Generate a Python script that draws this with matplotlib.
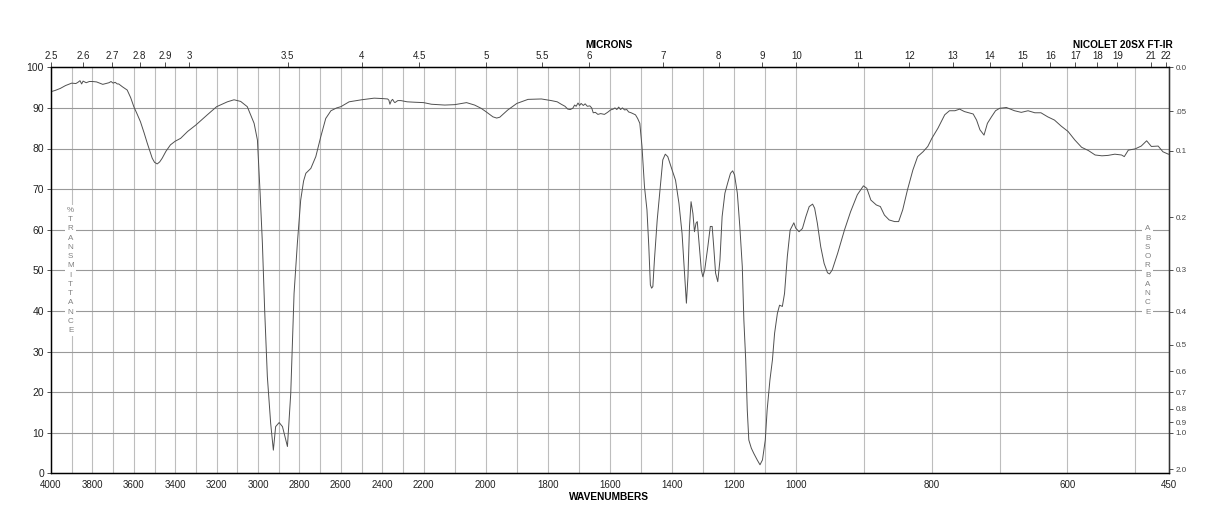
import numpy as np
import matplotlib
matplotlib.use("Agg")
import matplotlib.pyplot as plt

plt.rcParams['font.family'] = ['Liberation Sans', 'DejaVu Sans']

# ---------------- data ----------------
wavenumber = [
    4000, 3980, 3955, 3930, 3900, 3880, 3870, 3860, 3852, 3845, 3830, 3815, 3800, 3780,
    3765, 3750, 3735, 3720, 3710, 3700, 3690, 3680, 3673, 3655, 3632, 3615, 3600, 3585,
    3568, 3550, 3535, 3511, 3500, 3487, 3475, 3463, 3445, 3423, 3400, 3374, 3340, 3300,
    3245, 3200, 3148, 3116, 3084, 3052, 3019, 3003, 2990, 2979, 2968, 2955, 2939, 2926,
    2915, 2898, 2882, 2858, 2842, 2826, 2810, 2794, 2780, 2769, 2757, 2745, 2721, 2697,
    2673, 2648, 2620, 2600, 2560, 2500, 2439, 2400, 2374, 2368, 2363, 2356, 2350, 2343,
    2339, 2325, 2310, 2280, 2245, 2200, 2175, 2132, 2100, 2062, 2036, 2015, 2000, 1977,
    1965, 1955, 1929, 1900, 1864, 1821, 1789, 1770, 1757, 1745, 1736, 1728, 1720, 1714,
    1709, 1703, 1698, 1693, 1686, 1680, 1673, 1665, 1659, 1654, 1647, 1639, 1630, 1618,
    1608, 1598, 1590, 1584, 1578, 1572, 1566, 1560, 1553, 1546, 1540, 1532, 1518, 1511,
    1504, 1497, 1489, 1481, 1475, 1470, 1466, 1462, 1457, 1448, 1438, 1430, 1422, 1414,
    1400, 1389, 1378, 1368, 1360, 1354, 1349, 1344, 1339, 1333, 1328, 1323, 1319, 1314,
    1306, 1301, 1295, 1285, 1277, 1271, 1266, 1260, 1253, 1246, 1239, 1230, 1220, 1212,
    1205, 1199, 1190, 1182, 1174, 1169, 1163, 1158, 1153, 1145, 1137, 1126, 1117, 1109,
    1100, 1094, 1085, 1077, 1070, 1061, 1054, 1045, 1038, 1029, 1020, 1008, 1002, 996,
    991, 986, 981, 976, 973, 969, 964, 959, 954, 951, 947, 939, 929, 920, 910, 901, 896,
    890, 882, 876, 870, 863, 855, 849, 843, 836, 828, 821, 813, 806, 800, 791, 781, 774,
    766, 759, 752, 739, 734, 729, 723, 718, 712, 706, 700, 690, 678, 668, 658, 648, 639,
    629, 619, 609, 599, 589, 579, 569, 559, 549, 540, 530, 520, 516, 510, 500, 491, 483,
    476, 466, 459, 451, 450,
]
transmittance = [
    94.0, 94.3, 94.8, 95.5, 96.1, 96.0, 96.3, 96.7, 95.9, 96.6, 96.2, 96.5, 96.5, 96.4,
    96.1, 95.8, 96.0, 96.2, 96.5, 96.1, 96.3, 95.9, 95.9, 95.2, 94.4, 92.5, 90.3, 88.6,
    86.6, 83.8, 81.3, 77.6, 76.6, 76.2, 76.7, 77.6, 79.3, 80.9, 81.8, 82.5, 84.2, 85.8,
    88.3, 90.3, 91.5, 92.0, 91.6, 90.3, 86.2, 82.1, 69.0, 56.7, 40.2, 23.8, 12.3, 5.7,
    11.5, 12.5, 11.5, 6.6, 19.7, 44.3, 56.7, 67.3, 72.0, 73.9, 74.5, 75.1, 78.0, 82.9,
    87.4, 89.3, 90.0, 90.3, 91.5, 92.0, 92.4, 92.3, 92.2, 91.9, 90.9, 91.8, 92.1, 91.5,
    91.3, 91.8, 91.8, 91.5, 91.4, 91.3, 90.9, 90.7, 90.8, 91.3, 90.7, 89.9, 89.1, 87.8,
    87.5, 87.7, 89.5, 91.1, 92.1, 92.2, 91.8, 91.5, 90.9, 90.4, 89.7, 89.6, 89.9, 90.7,
    90.4, 91.2, 90.6, 91.1, 90.6, 91.0, 90.4, 90.5, 90.0, 88.8, 88.9, 88.4, 88.6, 88.4,
    88.9, 89.5, 89.7, 90.0, 89.6, 90.2, 89.6, 90.0, 89.5, 89.6, 89.0, 88.8, 88.3, 87.4,
    86.2, 80.5, 70.6, 64.9, 55.8, 46.4, 45.6, 46.0, 52.5, 62.4, 70.6, 77.2, 78.6, 78.0,
    74.7, 72.2, 66.5, 59.1, 49.3, 41.9, 48.4, 60.8, 66.9, 64.0, 59.5, 61.6, 62.0, 57.5,
    50.1, 48.4, 50.1, 55.8, 60.8, 60.8, 55.8, 49.3, 47.2, 52.5, 63.2, 69.0, 71.8, 73.9,
    74.5, 73.5, 69.0, 60.8, 50.9, 37.8, 27.9, 15.6, 8.2, 6.2, 4.9, 3.3, 2.1, 3.3,
    8.2, 15.6, 23.0, 27.9, 34.5, 39.4, 41.4, 41.1, 44.3, 53.4, 59.9, 61.7, 60.4, 59.5,
    60.3, 63.2, 65.7, 66.3, 65.3, 61.6, 55.8, 51.7, 49.4, 49.1, 50.1, 54.2, 59.9, 64.4, 68.6, 70.8, 70.2,
    67.3, 66.1, 65.7, 63.6, 62.4, 62.0, 62.0, 64.9, 69.8, 74.7, 78.0, 79.2, 80.5, 82.5, 85.0, 88.3, 89.3,
    89.3, 89.7, 89.1, 88.5, 87.0, 84.6, 83.3, 86.2, 87.8, 89.3, 89.9, 90.1, 89.3, 88.9, 89.3, 88.8, 88.8,
    87.8, 87.0, 85.5, 84.2, 82.1, 80.3, 79.5, 78.4, 78.2, 78.3, 78.6, 78.4, 78.0, 79.6, 79.9, 80.6, 81.9,
    80.5, 80.6, 79.2, 78.6, 78.6,
]

bottom_ticks = [4000, 3800, 3600, 3400, 3200, 3000, 2800, 2600, 2400, 2200,
                2000, 1800, 1600, 1400, 1200, 1000, 800, 600, 450]
grid_wn = list(range(3900, 450, -100))
t_ticks = [0, 10, 20, 30, 40, 50, 60, 70, 80, 90, 100]
micron_ticks = [2.5, 2.6, 2.7, 2.8, 2.9, 3, 3.5, 4, 4.5, 5, 5.5, 6, 7, 8, 9, 10,
                11, 12, 13, 14, 15, 16, 17, 18, 19, 21, 22]
absorb_ticks = [0.0, 0.05, 0.1, 0.2, 0.3, 0.4, 0.5, 0.6, 0.7, 0.8, 0.9, 1.0, 2.0]
absorb_labels = ['0.0', '.05', '0.1', '0.2', '0.3', '0.4', '0.5', '0.6', '0.7',
                 '0.8', '0.9', '1.0', '2.0']

# ---------------- axis scale (three equal-width panels) ----------------
seg_wn = [450, 1000, 2200, 4000]
seg_u = [0, 1, 2, 3]


def fwd(w):
    return np.interp(np.asarray(w, dtype=float), seg_wn, seg_u)


def inv(u):
    return np.interp(np.asarray(u, dtype=float), seg_u, seg_wn)


W, H = 1218, 528
fig = plt.figure(figsize=(W / 100, H / 100), dpi=100)
L, R, B, T = 51, 1169, 473.3, 67.3
ax = fig.add_axes([L / W, 1 - B / H, (R - L) / W, (B - T) / H])
ax.set_xscale('function', functions=(fwd, inv))
ax.set_xlim(4000, 450)
ax.set_ylim(0, 100)

# grid
for g in grid_wn:
    ax.axvline(g, color='#bdbdbd', lw=0.8, zorder=1)
for t in t_ticks[1:-1]:
    ax.axhline(t, color='#999999', lw=0.8, zorder=1)

ax.plot(wavenumber, transmittance, color='#505050', lw=0.7, zorder=3)

spine_col = '#333333'
for s in ax.spines.values():
    s.set_color(spine_col)
    s.set_linewidth(0.9)

ax.set_xticks(bottom_ticks)
ax.set_xticklabels([str(v) for v in bottom_ticks])
ax.minorticks_off()
ax.tick_params(axis='x', which='both', length=0, pad=5, labelsize=7, labelcolor='#222222')
ax.set_yticks(t_ticks)
ax.set_yticklabels([str(v) for v in t_ticks])
ax.tick_params(axis='y', direction='out', length=3, width=0.6, pad=2,
               labelsize=7.5, labelcolor='#222222', color=spine_col)

# top microns axis
axt = ax.twiny()
axt.set_xscale('function', functions=(fwd, inv))
axt.set_xlim(4000, 450)
axt.set_xticks([10000.0 / m for m in micron_ticks])
axt.set_xticklabels([('%g' % m) for m in micron_ticks])
axt.minorticks_off()
axt.tick_params(axis='x', direction='out', length=3.5, width=0.6, pad=1,
                labelsize=7, labelcolor='#222222', color=spine_col)
for s in axt.spines.values():
    s.set_color(spine_col)
    s.set_linewidth(0.9)

# right absorbance axis
axr = ax.twinx()
axr.set_ylim(0, 100)
axr.set_yticks([100 * 10 ** (-a) for a in absorb_ticks])
axr.set_yticklabels(absorb_labels)
axr.minorticks_off()
axr.tick_params(axis='y', direction='out', length=3, width=0.6, pad=1.5,
                labelsize=5.8, labelcolor='#444444', color=spine_col)
axr.spines['right'].set_color(spine_col)

# titles
fig.text(609 / W, 1 - 44.5 / H, 'MICRONS', ha='center', va='center',
         fontsize=7.3, fontweight='bold')
fig.text(1173 / W, 1 - 44.5 / H, 'NICOLET 20SX FT-IR', ha='right', va='center',
         fontsize=7.3, fontweight='bold')
fig.text(609 / W, 1 - 496.5 / H, 'WAVENUMBERS', ha='center', va='center',
         fontsize=7.3, fontweight='bold')

# stacked vertical labels
ax.text(70.7 / W, 1 - 270.5 / H, '\n'.join('%TRANSMITTANCE'), transform=fig.transFigure,
        ha='center', va='center', fontsize=5.8, color='#808080', linespacing=1.45,
        zorder=5, bbox=dict(fc='white', ec='none', pad=1.5))
ax.text(1147.7 / W, 1 - 270.5 / H, '\n'.join('ABSORBANCE'), transform=fig.transFigure,
        ha='center', va='center', fontsize=5.8, color='#808080', linespacing=1.45,
        zorder=5, bbox=dict(fc='white', ec='none', pad=1.5))

fig.savefig('out.png', dpi=100)
